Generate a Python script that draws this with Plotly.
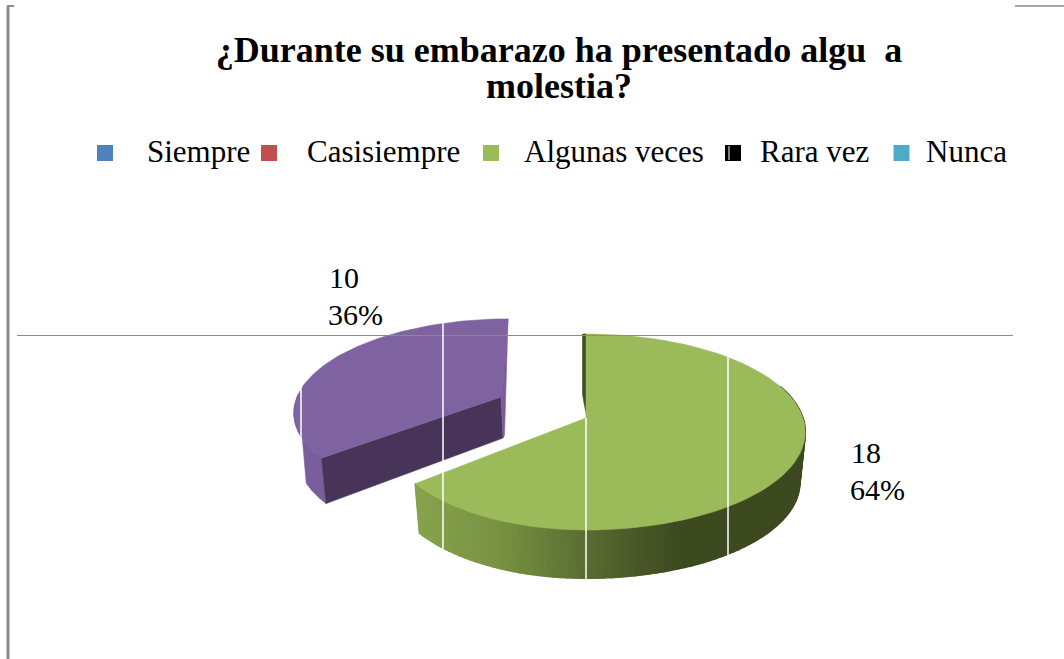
import math
import plotly.graph_objects as go

# ---- data ----
CATEGORIES = ["Siempre", "Casisiempre", "Algunas veces", "Rara vez", "Nunca"]
VALUES = [0, 0, 18, 10, 0]
TITLE_LINES = ["¿Durante su embarazo ha presentado algu\u00a0\u00a0a", "molestia?"]

# ---- style ----
LEGEND_COLORS = ["#4F81BD", "#C0504D", "#9BBB59", "#000000", "#4BACC6"]
LEGEND_MARK_X = [105, 269, 491, 733, 901.5]
LEGEND_TEXT_X = [145, 305, 522, 758, 924]
LEGEND_Y = 151
FONT = "Liberation Serif"
W, H = 1064, 659
GREEN_TOP = "#9BBA59"
PURPLE_TOP = "#7F62A0"
PURPLE_WALL = "#7A5E9B"
PURPLE_INNER = "#473458"
GREEN_STRIP = "#3F4D22"
GRAY = "#8C8C8C"

K = 0.143
RX_R, RY = 217, 96
DEPTH_SCALE = 0.975
GREEN_GEOM = dict(ax=586, ay=418, yscale=1.0, skew=0, depth=51, rx_l=199)
PURPLE_GEOM = dict(ax=501, ay=397, yscale=0.93, skew=7, depth=47, rx_l=204)

total = sum(VALUES)
green_span = 360 * VALUES[2] / total


def project(theta, g, bottom=False):
    """Map a pie angle (degrees clockwise from 12 o'clock) to the page."""
    t = math.radians(theta)
    u, v = math.sin(t), -math.cos(t)
    s = 1 / (1 - K * v)
    x = (RX_R if u > 0 else g["rx_l"]) * u * s - g["skew"] * v
    y = RY * g["yscale"] * v * s
    if bottom:
        return g["ax"] + x * DEPTH_SCALE, g["ay"] + y * DEPTH_SCALE + g["depth"]
    return g["ax"] + x, g["ay"] + y


def arc(a, b, g, bottom=False, n=90):
    return [project(a + (b - a) * i / n, g, bottom) for i in range(n + 1)]


GREEN_WALL_STOPS = [(405, (136, 165, 78)), (470, (125, 152, 70)), (500, (120, 146, 66)),
                    (586, (90, 108, 50)), (640, (72, 86, 38)), (680, (61, 74, 32)), (810, (61, 74, 32))]


def wall_color(x):
    for (x0, c0), (x1, c1) in zip(GREEN_WALL_STOPS, GREEN_WALL_STOPS[1:]):
        if x <= x1:
            f = max(0, (x - x0) / (x1 - x0))
            return "rgb(%d,%d,%d)" % tuple(round(p + (q - p) * f) for p, q in zip(c0, c1))
    return "rgb(61,74,32)"


fig = go.Figure()


def poly(points, color, lw=0.6):
    xs = [p[0] for p in points] + [points[0][0]]
    ys = [p[1] for p in points] + [points[0][1]]
    fig.add_trace(go.Scatter(x=xs, y=ys, mode="lines", fill="toself", fillcolor=color,
                             line=dict(color=color, width=lw), hoverinfo="skip", showlegend=False))


# purple slice
p_a, p_b = green_span, 360
poly(arc(p_a, 272, PURPLE_GEOM) + arc(245, p_a, PURPLE_GEOM, True), PURPLE_WALL)
top_corner = project(p_a, PURPLE_GEOM)
bot_corner = project(p_a, PURPLE_GEOM, True)
apex = (PURPLE_GEOM["ax"], PURPLE_GEOM["ay"])
apex_b = (PURPLE_GEOM["ax"] + 2, PURPLE_GEOM["ay"] + 41)
poly([top_corner, apex, apex_b, bot_corner], PURPLE_INNER)
poly([project(360, PURPLE_GEOM), apex, apex_b, (apex_b[0] + 1.5, apex_b[1] - 3)], PURPLE_WALL)
poly([apex] + arc(p_a, p_b, PURPLE_GEOM), PURPLE_TOP)

# green slice: base wall, gradient strips, inner sliver, top
base = arc(70, green_span, GREEN_GEOM) + arc(green_span, 70, GREEN_GEOM, True)
poly(base, "rgb(90,108,50)")
strips = 90
for i in range(strips):
    a = 70 + (green_span - 70) * i / strips
    b = 70 + (green_span - 70) * (i + 1) / strips
    pts = arc(a, b, GREEN_GEOM, n=2) + arc(b, a, GREEN_GEOM, True, n=2)
    poly(pts, wall_color(sum(p[0] for p in pts) / len(pts)), lw=1.6)
gx, gy = GREEN_GEOM["ax"], GREEN_GEOM["ay"]
gtop = project(0, GREEN_GEOM)
poly([(gx - 3.5, gtop[1]), (gx + 1, gtop[1]), (gx + 5, gy), (gx + 1, gy), (gx - 2, gy - 15), (gx - 3.5, gy - 24)], GREEN_STRIP)
poly([(gx, gy)] + arc(0, green_span, GREEN_GEOM), GREEN_TOP)

# legend keys
for name, col, mx in zip(CATEGORIES, LEGEND_COLORS, LEGEND_MARK_X):
    fig.add_trace(go.Scatter(x=[mx], y=[153], mode="markers", name=name, showlegend=False,
                             marker=dict(symbol="square", size=16, color=col, line=dict(width=0))))

ann = []
for name, tx in zip(CATEGORIES, LEGEND_TEXT_X):
    ann.append(dict(x=tx, y=LEGEND_Y, text=name, showarrow=False, xanchor="left", yanchor="middle",
                    font=dict(family=FONT, size=31, color="#000")))
LABEL_POS = {2: (848, 452, 489), 3: (326, 277, 314)}
for idx, (lx, y1, y2) in LABEL_POS.items():
    pct = f"{round(100 * VALUES[idx] / total)}%"
    for txt, yy, off in ((str(VALUES[idx]), y1, 1), (pct, y2, 0)):
        ann.append(dict(x=lx + off, y=yy, text=txt, showarrow=False, xanchor="left", yanchor="middle",
                        font=dict(family=FONT, size=30, color="#000")))
ann.append(dict(x=559, y=86, text=f"<b>{TITLE_LINES[1]}</b>", showarrow=False, xanchor="center", yanchor="middle",
                font=dict(family=FONT, size=36, color="#000")))


def line(x0, y0, x1, y1, color, width):
    return dict(type="line", xref="x", yref="y", x0=x0, y0=y0, x1=x1, y1=y1, line=dict(color=color, width=width), layer="above")


shapes = [
    line(8, 6, 8, 659, GRAY, 3),
    line(7, 6, 14, 6, GRAY, 2),
    line(1015, 6, 1064, 6, "#A6A6A6", 2),
    line(17, 335.5, 1013, 335.5, "#8A8A8A", 1),
    line(301, 380, 301, 475, "#FFFFFF", 1.5),
    line(443, 318, 443, 550, "#FFFFFF", 1.5),
    line(586, 418, 586, 590, "#FFFFFF", 1.5),
    line(728, 350, 728, 560, "#FFFFFF", 1.5),
    line(729, 146, 729, 160, "#FFFFFF", 1),
]

fig.update_layout(
    width=W, height=H, margin=dict(l=0, r=0, t=0, b=0),
    paper_bgcolor="#FFFFFF", plot_bgcolor="#FFFFFF", showlegend=False,
    title=dict(text=f"<b>{TITLE_LINES[0]}</b>", x=559 / W, xanchor="center", y=1 - 49 / H, yanchor="middle",
               font=dict(family=FONT, size=36, color="#000")),
    xaxis=dict(range=[0, W], visible=False, fixedrange=True),
    yaxis=dict(range=[H, 0], visible=False, fixedrange=True),
    annotations=ann, shapes=shapes,
)
fig.write_html("out.html", config={"displayModeBar": False},
               post_script="document.body.style.margin='0';document.documentElement.style.overflow='hidden';")
